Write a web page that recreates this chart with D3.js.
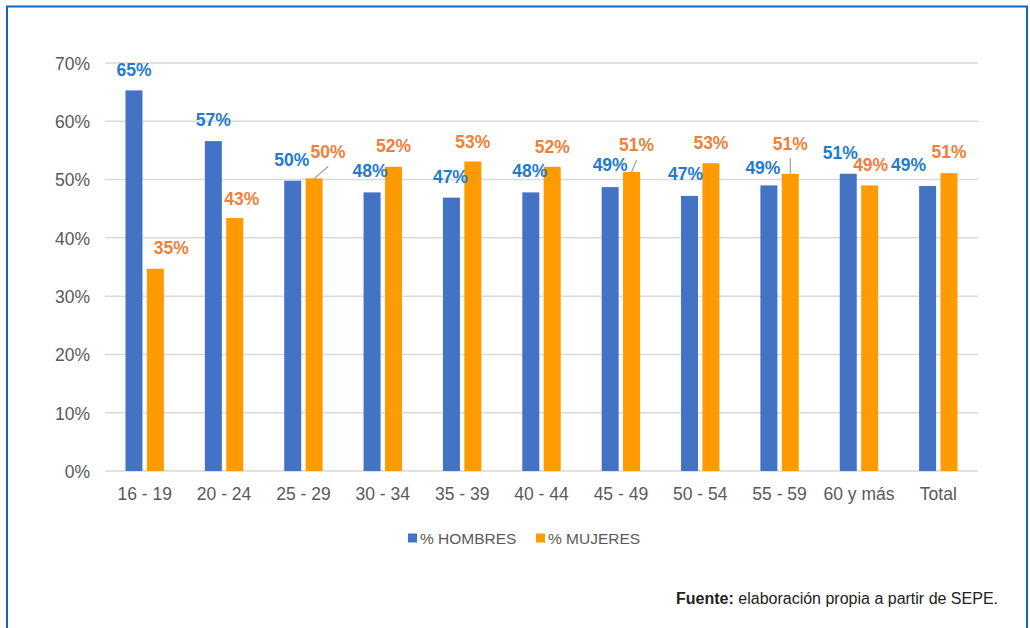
<!DOCTYPE html>
<html lang="es">
<head>
<meta charset="utf-8">
<script src="https://cdn.jsdelivr.net/npm/d3@7"></script>
<style>
  html, body { margin: 0; padding: 0; background: #fff; }
  svg { display: block; font-family: "Liberation Sans", Arial, sans-serif; }
</style>
</head>
<body>
<svg id="chart" width="1030" height="628"></svg>
<script>
// Age groups and share of each sex (%)
const categories = ["16 - 19", "20 - 24", "25 - 29", "30 - 34", "35 - 39", "40 - 44",
                    "45 - 49", "50 - 54", "55 - 59", "60 y más", "Total"];
const hombres = [65.3, 56.6, 49.8, 47.8, 46.9, 47.8, 48.7, 47.2, 49.0, 51.0, 48.9];
const mujeres = [34.7, 43.4, 50.2, 52.2, 53.1, 52.2, 51.3, 52.8, 51.0, 49.0, 51.1];
const yTicks = [0, 10, 20, 30, 40, 50, 60, 70];
const seriesNames = ["% HOMBRES", "% MUJERES"];

// Label nudges (px) away from the default spot above each bar
const nudgeH = [[0,0],[0,0],[-1,0],[-2,-1],[-1,0],[-1,-1],[0,-1],[-4,-1],[-6,3],[-8,0],[-19,0]];
const nudgeM = [[16,0],[7,2],[14,-6],[0,0],[0,1],[0,1],[5,-6],[0,0],[0,-9],[1,0],[0,0]];
// leader lines drawn for labels moved far from their bar
const leaderM = [false,false,true,false,false,false,true,false,true,false,false];

const colors = { h: "#4472C4", m: "#FF9A00", hLab: "#1F7BD0", mLab: "#F07F3A" };

const svg = d3.select("#chart");

// frame
svg.append("rect")
  .attr("x", 7).attr("y", 6.5).attr("width", 1020).attr("height", 640)
  .attr("fill", "none").attr("stroke", "#1565C0").attr("stroke-width", 2);

const m = { left: 105, right: 978, top: 63, bottom: 471 };

const x = d3.scaleBand().domain(categories).range([m.left, m.right]).paddingInner(0).paddingOuter(0);
const y = d3.scaleLinear().domain([0, 70]).range([m.bottom, m.top]);

const barW = 17, off = 10.7;

// gridlines
svg.append("g").selectAll("line").data(yTicks).join("line")
  .attr("x1", m.left).attr("x2", m.right)
  .attr("y1", d => y(d)).attr("y2", d => y(d))
  .attr("stroke", "#D9D9D9").attr("stroke-width", 1.5);

// y axis labels
const yAxis = d3.axisLeft(y).tickValues(yTicks).tickFormat(d => d + "%").tickSize(0).tickPadding(0);
const gy = svg.append("g").attr("transform", `translate(${m.left - 15},0)`).call(yAxis);
gy.select(".domain").remove();
gy.selectAll("text").attr("fill", "#595959").attr("font-size", 17.5).attr("dy", "0.36em")
  .attr("font-family", "Liberation Sans, Arial, sans-serif");

// x axis labels
const xAxis = d3.axisBottom(x).tickSize(0).tickPadding(0);
const gx = svg.append("g").attr("transform", `translate(0,${m.bottom + 17})`).call(xAxis);
gx.select(".domain").remove();
gx.selectAll("text").attr("fill", "#595959").attr("font-size", 17.5).attr("dy", "0.71em")
  .attr("font-family", "Liberation Sans, Arial, sans-serif");

const cx = (c, s) => x(c) + x.bandwidth() / 2 + s * off;

// bars
svg.append("g").selectAll("rect").data(categories).join("rect")
  .attr("x", c => cx(c, -1) - barW / 2).attr("width", barW)
  .attr("y", (c, i) => y(hombres[i])).attr("height", (c, i) => y(0) - y(hombres[i]))
  .attr("fill", colors.h);
svg.append("g").selectAll("rect").data(categories).join("rect")
  .attr("x", c => cx(c, 1) - barW / 2).attr("width", barW)
  .attr("y", (c, i) => y(mujeres[i])).attr("height", (c, i) => y(0) - y(mujeres[i]))
  .attr("fill", colors.m);

// leader lines
svg.append("g").selectAll("line").data(categories.filter((c, i) => leaderM[i])).join("line")
  .each(function (c) {
    const i = categories.indexOf(c);
    const bx = cx(c, 1), by = y(mujeres[i]);
    const lx = bx + nudgeM[i][0], ly = by - 21 + nudgeM[i][1] + 9;
    const vertical = Math.abs(nudgeM[i][0]) < 2;
    d3.select(this)
      .attr("x1", vertical ? bx : bx).attr("y1", by)
      .attr("x2", vertical ? bx : lx).attr("y2", vertical ? by - 16 : ly + 6);
  })
  .attr("stroke", "#A6A6A6").attr("stroke-width", 1.3);

// value labels
const fmt = v => Math.round(v) + "%";
function labels(vals, nudge, sign, color) {
  svg.append("g").selectAll("text").data(categories).join("text")
    .attr("x", (c, i) => cx(c, sign) + nudge[i][0])
    .attr("y", (c, i) => y(vals[i]) - 21 + nudge[i][1])
    .attr("dy", "0.36em")
    .attr("text-anchor", "middle")
    .attr("font-size", 17.5).attr("font-weight", "bold")
    .attr("fill", color)
    .text((c, i) => fmt(vals[i]));
}
labels(hombres, nudgeH, -1, colors.hLab);
labels(mujeres, nudgeM, 1, colors.mLab);

// legend
const leg = svg.append("g").attr("font-size", 15.5).attr("fill", "#595959");
const legX = [408, 536];
seriesNames.forEach((name, k) => {
  leg.append("rect").attr("x", legX[k]).attr("y", 533.5).attr("width", 9).attr("height", 9)
    .attr("fill", k === 0 ? colors.h : colors.m);
  leg.append("text").attr("x", legX[k] + 12).attr("y", 538).attr("dy", "0.36em").text(name);
});

// source note
const src = svg.append("text").attr("x", 998).attr("y", 604).attr("text-anchor", "end")
  .attr("font-size", 16).attr("fill", "#222");
src.append("tspan").attr("font-weight", "bold").text("Fuente:");
src.append("tspan").text(" elaboración propia a partir de SEPE.");
</script>
</body>
</html>
